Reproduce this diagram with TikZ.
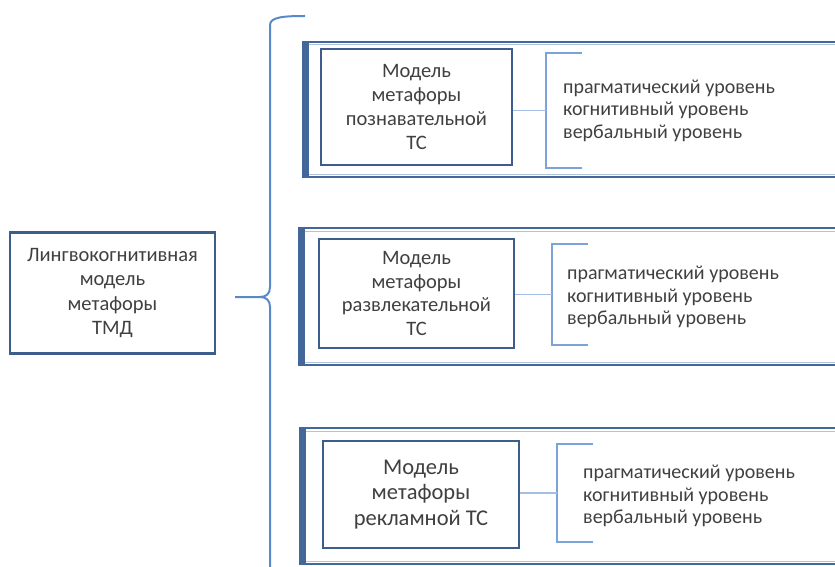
\documentclass[tikz,border=0pt]{standalone}
\usepackage{fontspec}
\setmainfont{Carlito}
\definecolor{txt}{HTML}{404040}
\definecolor{boxc}{HTML}{3D5D8C}
\definecolor{framec}{HTML}{44679A}
\definecolor{framel}{HTML}{AFC3DD}
\definecolor{bracec}{HTML}{5A89C8}
\definecolor{brackc}{HTML}{7BA3DA}
\definecolor{connc}{HTML}{A3BFE3}
\begin{document}
\begin{tikzpicture}[x=1pt,y=-1pt,
  mbox/.style={draw=boxc,line width=2.4pt,fill=white,inner sep=0pt,align=center,text=txt,
    font=\fontsize{20.5}{23.8}\selectfont},
  lvl/.style={anchor=west,align=left,inner sep=0pt,text=txt,font=\fontsize{20}{22.6}\selectfont},
  frame/.style={draw=framec,line width=2pt,inner sep=0pt,anchor=north west},
  brk/.style={draw=brackc,line width=1.8pt},
  conn/.style={draw=connc,line width=1.6pt},
  bracestyle/.style={draw=bracec,line width=2pt}]
\useasboundingbox (0,0) rectangle (835,567);
% left box
\node[mbox,minimum width=205pt,minimum height=121pt,font=\fontsize{20.5}{24.6}\selectfont]
  (lm) at (112.5,293) {Лингвокогнитивная\\модель\\метафоры\\ТМД};
% big brace
\coordinate (tip) at (235,297);
\draw[bracestyle] (305,16) .. controls (284,16) and (270,17) .. (270,25) -- (270,287)
  .. controls (270,294) and (266,297) .. (260,297) -- (tip);
\draw[bracestyle] (260,297) .. controls (266,297) and (270,300) .. (270,307) -- (270,575);
% group frames
\foreach \n/\x/\ya/\yb in {g1/303/42/177, g2/299/228/365, g3/300/428/564}{
  \draw[draw=framel,line width=1pt] (\x+4,\ya+3) -- (845,\ya+3);
  \draw[draw=framel,line width=1pt] (\x+4,\yb-3) -- (845,\yb-3);
  \draw[draw=framec,line width=2pt] (845,\ya) -- (\x,\ya) -- (\x,\yb) -- (845,\yb);
  \fill[framec] (\x-1,\ya-1) rectangle (\x+6,\yb+1);
}
% inner model boxes
\node[mbox,minimum width=191pt,minimum height=116pt] (m1) at (416.5,107)
  {Модель\\метафоры\\познавательной\\ТС};
\node[mbox,minimum width=195pt,minimum height=109pt] (m2) at (416.5,293.5)
  {Модель\\метафоры\\развлекательной\\ТС};
\node[mbox,minimum width=196pt,minimum height=107pt,font=\fontsize{22.5}{25.5}\selectfont] (m3) at (421,494.5)
  {Модель\\метафоры\\рекламной ТС};
% brackets and levels
\coordinate (b1) at (546,110.5);
\coordinate (b2) at (552,294.5);
\coordinate (b3) at (557,493);
\draw[brk] (582,53) -- (546,53) -- (546,168) -- (582,168);
\draw[brk] (588,244) -- (552,244) -- (552,345) -- (588,345);
\draw[brk] (593,444) -- (557,444) -- (557,542) -- (593,542);
\draw[conn] (m1.east |- b1) -- (b1);
\draw[conn] (m2.east |- b2) -- (b2);
\draw[conn] (m3.east |- b3) -- (b3);
\node[lvl] (t1) at (563,110.5) {прагматический уровень\\когнитивный уровень\\вербальный уровень};
\node[lvl] (t2) at (567,297) {прагматический уровень\\когнитивный уровень\\вербальный уровень};
\node[lvl] (t3) at (583,496) {прагматический уровень\\когнитивный уровень\\вербальный уровень};
\end{tikzpicture}
\end{document}
